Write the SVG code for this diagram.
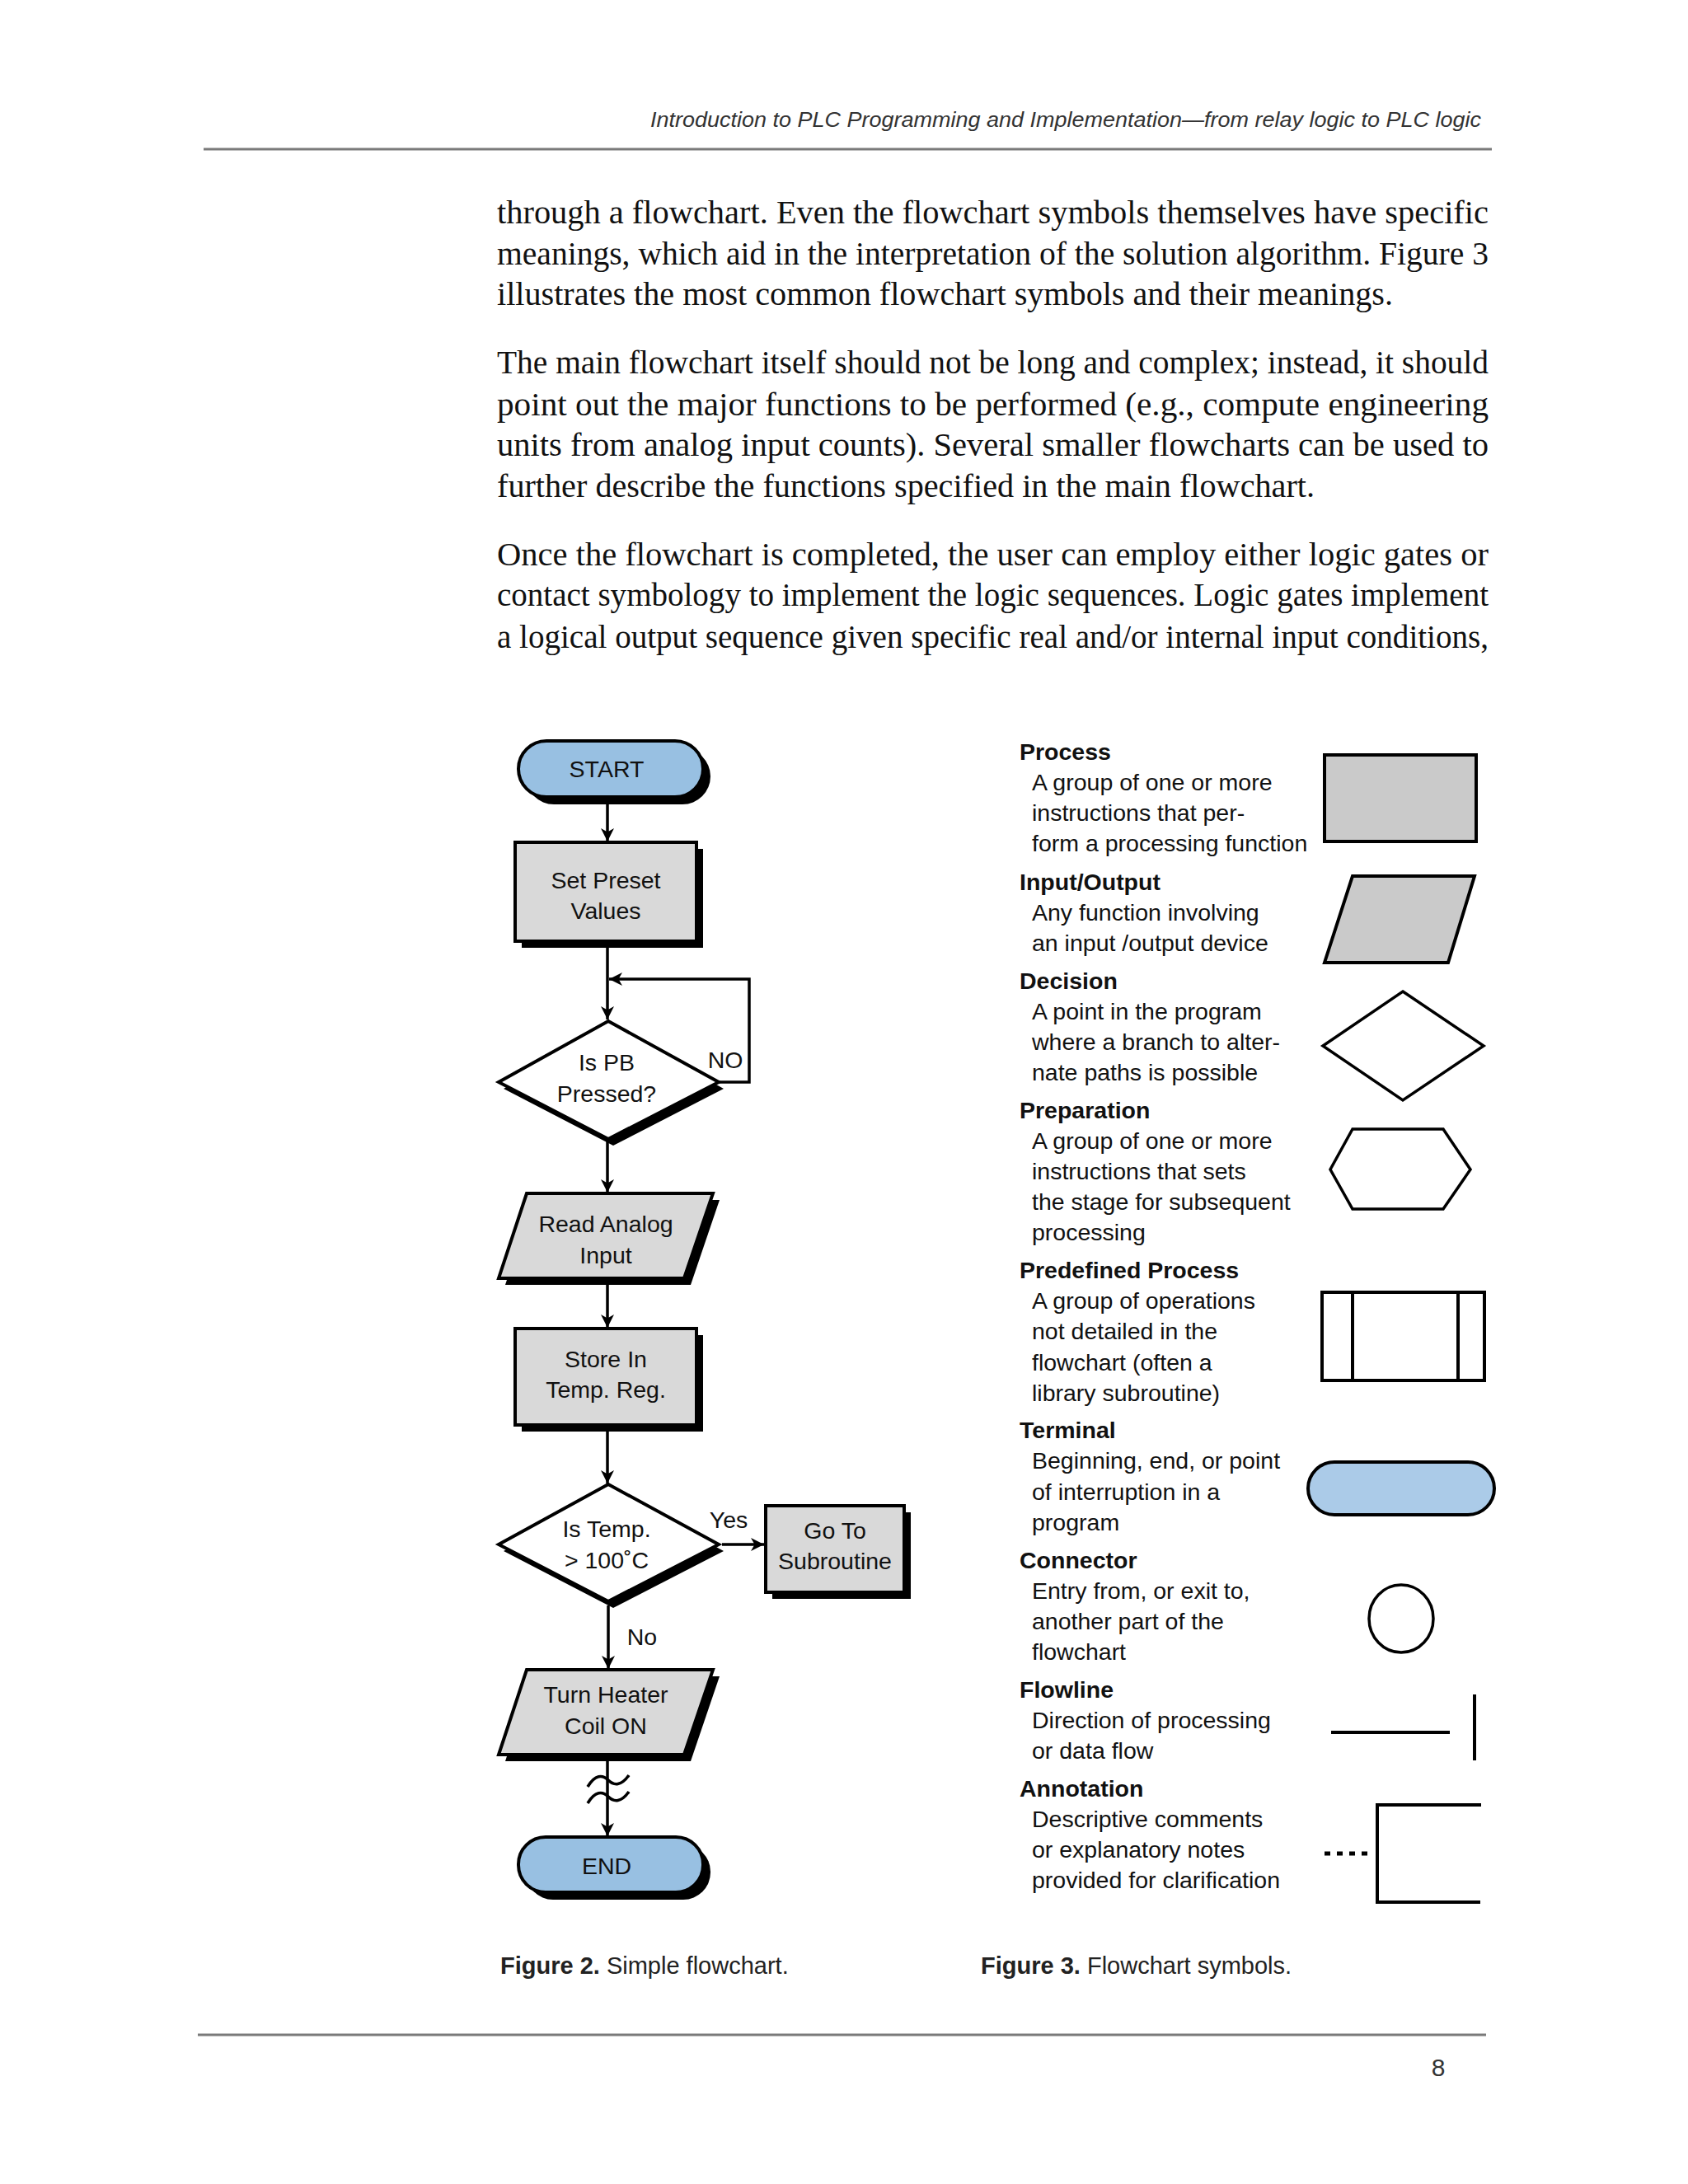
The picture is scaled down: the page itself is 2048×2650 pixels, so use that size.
<svg xmlns="http://www.w3.org/2000/svg" width="2048" height="2650" viewBox="0 0 2048 2650">
<defs>
<style>
.body{font-family:"Liberation Serif","Times New Roman",serif;font-size:40px;fill:#111}
.hdr{font-family:"Liberation Sans",Arial,sans-serif;font-size:26px;font-style:italic;fill:#333}
.t{font-family:"Liberation Sans",Arial,sans-serif;font-size:28.5px;fill:#111}
.c{text-anchor:middle}
.h{font-family:"Liberation Sans",Arial,sans-serif;font-size:28.5px;font-weight:bold;fill:#111}
.cap{font-family:"Liberation Sans",Arial,sans-serif;font-size:29px;fill:#222}
.shape{stroke:#000;stroke-width:4;stroke-linejoin:miter}
.gray{fill:#d9d9d9}
.lgray{fill:#cacaca}
.blue{fill:#98c0e2}
.lblue{fill:#abcbe8}
.white{fill:#fff}
.shadow{fill:#000}
.flow{fill:none;stroke:#000;stroke-width:3.5}
.rule{stroke:#7a7a7a;stroke-width:3}
</style>
<marker id="arr" viewBox="0 0 14 14" refX="14" refY="7" markerWidth="16" markerHeight="16" markerUnits="userSpaceOnUse" orient="auto">
<path d="M0,0 L14,7 L0,14 L4,7 Z" fill="#000"/>
</marker>
</defs>
<rect width="2048" height="2650" fill="#fff"/>

<g id="page-header">
<text class="hdr" x="789" y="154" textLength="1008" lengthAdjust="spacingAndGlyphs">Introduction to PLC Programming and Implementation—from relay logic to PLC logic</text>
<line class="rule" x1="247" y1="181" x2="1810" y2="181"/>
</g>

<g id="body-text">
<text class="body" x="603" y="271" textLength="1203" lengthAdjust="spacingAndGlyphs">through a flowchart. Even the flowchart symbols themselves have specific</text>
<text class="body" x="603" y="321" textLength="1203" lengthAdjust="spacingAndGlyphs">meanings, which aid in the interpretation of the solution algorithm. Figure 3</text>
<text class="body" x="603" y="370" textLength="1087" lengthAdjust="spacingAndGlyphs">illustrates the most common flowchart symbols and their meanings.</text>
<text class="body" x="603" y="453" textLength="1203" lengthAdjust="spacingAndGlyphs">The main flowchart itself should not be long and complex; instead, it should</text>
<text class="body" x="603" y="504" textLength="1203" lengthAdjust="spacingAndGlyphs">point out the major functions to be performed (e.g., compute engineering</text>
<text class="body" x="603" y="553" textLength="1203" lengthAdjust="spacingAndGlyphs">units from analog input counts). Several smaller flowcharts can be used to</text>
<text class="body" x="603" y="603" textLength="992" lengthAdjust="spacingAndGlyphs">further describe the functions specified in the main flowchart.</text>
<text class="body" x="603" y="686" textLength="1203" lengthAdjust="spacingAndGlyphs">Once the flowchart is completed, the user can employ either logic gates or</text>
<text class="body" x="603" y="735" textLength="1203" lengthAdjust="spacingAndGlyphs">contact symbology to implement the logic sequences. Logic gates implement</text>
<text class="body" x="603" y="786" textLength="1203" lengthAdjust="spacingAndGlyphs">a logical output sequence given specific real and/or internal input conditions,</text>
</g>

<g id="connectors">
<line class="flow" x1="737" y1="967" x2="737" y2="1021" marker-end="url(#arr)"/>
<line class="flow" x1="737" y1="1142" x2="737" y2="1237" marker-end="url(#arr)"/>
<polyline class="flow" points="872,1313 909,1313 909,1188 739,1188" marker-end="url(#arr)"/>
<line class="flow" x1="737" y1="1384" x2="737" y2="1447" marker-end="url(#arr)"/>
<line class="flow" x1="737" y1="1558" x2="737" y2="1611" marker-end="url(#arr)"/>
<line class="flow" x1="737" y1="1736" x2="737" y2="1800" marker-end="url(#arr)"/>
<line class="flow" x1="876" y1="1874" x2="927" y2="1874" marker-end="url(#arr)"/>
<line class="flow" x1="738" y1="1948" x2="738" y2="2025" marker-end="url(#arr)"/>
<line class="flow" x1="737" y1="2136" x2="737" y2="2228" marker-end="url(#arr)"/>
<path class="flow" d="M713,2168 C722,2153 731,2153 738,2160 C745,2167 754,2167 763,2154"/>
<path class="flow" d="M713,2188 C722,2173 731,2173 738,2180 C745,2187 754,2187 763,2174"/>
<text class="t c" x="880" y="1296">NO</text>
<text class="t c" x="884" y="1854">Yes</text>
<text class="t c" x="779" y="1996">No</text>
</g>

<g id="node-start">
<rect class="shadow" x="638" y="908" width="224" height="68" rx="34"/>
<rect class="shape blue" x="629" y="899" width="224" height="68" rx="34"/>
<text class="t c" x="736" y="943">START</text>
</g>

<g id="node-set-preset">
<rect class="shadow" x="633" y="1030" width="220" height="120"/>
<rect class="shape gray" x="625" y="1022" width="220" height="120"/>
<text class="t c" x="735" y="1078">Set Preset</text>
<text class="t c" x="735" y="1115">Values</text>
</g>

<g id="node-is-pb">
<polygon class="shadow" points="744,1247 878,1321 744,1390 611,1321"/>
<polygon class="shape white" points="738,1239 872,1313 738,1382 605,1313"/>
<text class="t c" x="736" y="1299">Is PB</text>
<text class="t c" x="736" y="1337">Pressed?</text>
</g>

<g id="node-read-analog">
<polygon class="shadow" points="647,1456 873,1456 838,1559 613,1559"/>
<polygon class="shape gray" points="639,1448 865,1448 830,1551 605,1551"/>
<text class="t c" x="735" y="1495">Read Analog</text>
<text class="t c" x="735" y="1533">Input</text>
</g>

<g id="node-store">
<rect class="shadow" x="633" y="1620" width="220" height="117"/>
<rect class="shape gray" x="625" y="1612" width="220" height="117"/>
<text class="t c" x="735" y="1659">Store In</text>
<text class="t c" x="735" y="1696">Temp. Reg.</text>
</g>

<g id="node-is-temp">
<polygon class="shadow" points="744,1809 878,1882 744,1951 611,1882"/>
<polygon class="shape white" points="738,1801 872,1874 738,1943 605,1874"/>
<text class="t c" x="736" y="1865">Is Temp.</text>
<text class="t c" x="736" y="1903">&gt; 100˚C</text>
</g>

<g id="node-goto">
<rect class="shadow" x="937" y="1835" width="168" height="105"/>
<rect class="shape gray" x="929" y="1827" width="168" height="105"/>
<text class="t c" x="1013" y="1867">Go To</text>
<text class="t c" x="1013" y="1904">Subroutine</text>
</g>

<g id="node-heater">
<polygon class="shadow" points="647,2034 873,2034 838,2137 613,2137"/>
<polygon class="shape gray" points="639,2026 865,2026 830,2129 605,2129"/>
<text class="t c" x="735" y="2066">Turn Heater</text>
<text class="t c" x="735" y="2104">Coil ON</text>
</g>

<g id="node-end">
<rect class="shadow" x="638" y="2238" width="224" height="67" rx="33"/>
<rect class="shape blue" x="629" y="2229" width="224" height="67" rx="33"/>
<text class="t c" x="736" y="2274">END</text>
</g>

<g id="legend-text">
<text class="h" x="1237" y="922">Process</text>
<text class="t" x="1252" y="959">A group of one or more</text>
<text class="t" x="1252" y="996">instructions that per-</text>
<text class="t" x="1252" y="1033">form a processing function</text>
<text class="h" x="1237" y="1080">Input/Output</text>
<text class="t" x="1252" y="1117">Any function involving</text>
<text class="t" x="1252" y="1154">an input /output device</text>
<text class="h" x="1237" y="1200">Decision</text>
<text class="t" x="1252" y="1237">A point in the program</text>
<text class="t" x="1252" y="1274">where a branch to alter-</text>
<text class="t" x="1252" y="1311">nate paths is possible</text>
<text class="h" x="1237" y="1357">Preparation</text>
<text class="t" x="1252" y="1394">A group of one or more</text>
<text class="t" x="1252" y="1431">instructions that sets</text>
<text class="t" x="1252" y="1468">the stage for subsequent</text>
<text class="t" x="1252" y="1505">processing</text>
<text class="h" x="1237" y="1551">Predefined Process</text>
<text class="t" x="1252" y="1588">A group of operations</text>
<text class="t" x="1252" y="1625">not detailed in the</text>
<text class="t" x="1252" y="1663">flowchart (often a</text>
<text class="t" x="1252" y="1700">library subroutine)</text>
<text class="h" x="1237" y="1745">Terminal</text>
<text class="t" x="1252" y="1782">Beginning, end, or point</text>
<text class="t" x="1252" y="1820">of interruption in a</text>
<text class="t" x="1252" y="1857">program</text>
<text class="h" x="1237" y="1903">Connector</text>
<text class="t" x="1252" y="1940">Entry from, or exit to,</text>
<text class="t" x="1252" y="1977">another part of the</text>
<text class="t" x="1252" y="2014">flowchart</text>
<text class="h" x="1237" y="2060">Flowline</text>
<text class="t" x="1252" y="2097">Direction of processing</text>
<text class="t" x="1252" y="2134">or data flow</text>
<text class="h" x="1237" y="2180">Annotation</text>
<text class="t" x="1252" y="2217">Descriptive comments</text>
<text class="t" x="1252" y="2254">or explanatory notes</text>
<text class="t" x="1252" y="2291">provided for clarification</text>
</g>

<g id="legend-symbols">
<rect class="shape lgray" x="1607" y="916" width="184" height="105"/>
<polygon class="shape lgray" points="1641,1063 1789,1063 1757,1168 1607,1168"/>
<polygon class="shape white" points="1702,1203 1800,1269 1702,1335 1605,1269" style="stroke-width:3.5"/>
<polygon class="shape white" points="1641,1370 1751,1370 1784,1419 1751,1467 1641,1467 1614,1419" style="stroke-width:3.5"/>
<rect class="shape white" x="1604" y="1568" width="197" height="107"/>
<line class="flow" x1="1641" y1="1568" x2="1641" y2="1675" style="stroke-width:4"/>
<line class="flow" x1="1769" y1="1568" x2="1769" y2="1675" style="stroke-width:4"/>
<rect class="shape lblue" x="1587" y="1774" width="226" height="64" rx="32"/>
<ellipse class="shape white" cx="1700" cy="1964" rx="39" ry="41" style="stroke-width:3.5"/>
<line class="flow" x1="1615" y1="2102" x2="1759" y2="2102" style="stroke-width:4"/>
<line class="flow" x1="1789" y1="2056" x2="1789" y2="2136" style="stroke-width:4"/>
<line class="flow" x1="1607" y1="2249" x2="1665" y2="2249" style="stroke-width:5;stroke-dasharray:7 8"/>
<polyline class="flow" points="1797,2190 1671,2190 1671,2308 1796,2308" style="stroke-width:4"/>
</g>

<g id="captions">
<text class="cap" x="607" y="2395"><tspan font-weight="bold">Figure 2.</tspan> Simple flowchart.</text>
<text class="cap" x="1190" y="2395"><tspan font-weight="bold">Figure 3.</tspan> Flowchart symbols.</text>
</g>

<g id="page-footer">
<line class="rule" x1="240" y1="2469" x2="1803" y2="2469"/>
<text class="cap c" x="1745" y="2519" style="font-size:30px;fill:#333">8</text>
</g>
</svg>
